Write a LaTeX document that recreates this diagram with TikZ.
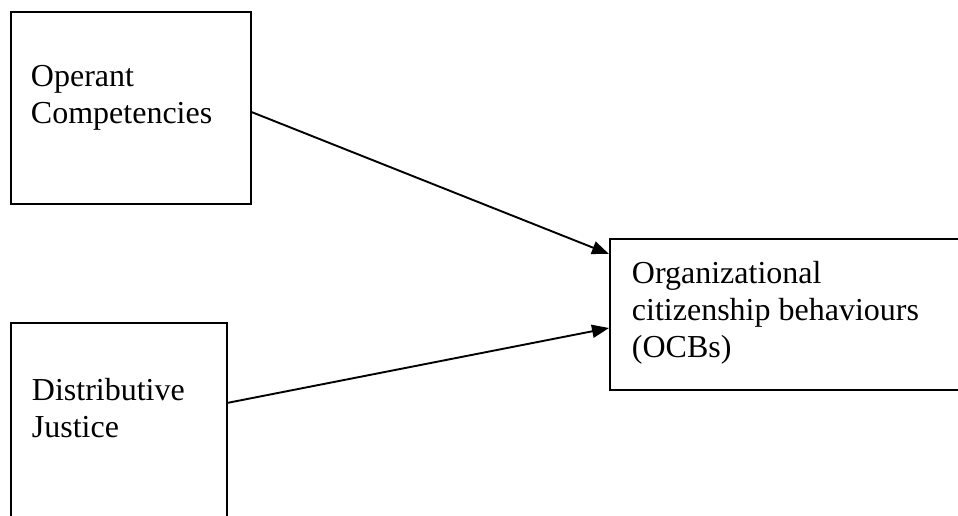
\documentclass[tikz,border=0pt]{standalone}
\usepackage{fontspec}
\setmainfont{Liberation Serif}
\usetikzlibrary{arrows.meta}

\begin{document}
\begin{tikzpicture}[x=1pt,y=-1pt,line width=1.9pt,
    box/.style={draw,anchor=north west,inner sep=0pt},
    lbl/.style={anchor=base west,align=left,inner sep=0pt,
      font=\fontsize{32pt}{37pt}\selectfont},
    conn/.style={-{Triangle[length=17pt,width=13pt]}}]
  \useasboundingbox (0,0) rectangle (958,516);
  % left boxes
  \node[box,minimum width=240pt,minimum height=192pt] (opc) at (10,11) {};
  \node[lbl] (opctext) at (30,124) {Operant\\Competencies};
  \node[box,minimum width=216pt,minimum height=210pt] (dj) at (10,322) {};
  \node[lbl] (djtext) at (31,437) {Distributive\\Justice};
  % outcome box, runs past the right edge
  \node[box,minimum width=370pt,minimum height=151pt] (ocb) at (609,238) {};
  \node[lbl] (ocbtext) at (631,357) {Organizational\\citizenship behaviours\\(OCBs)};
  \coordinate (in1) at (609,254);
  \coordinate (in2) at (609,328);
  \draw[conn] (opc.-2.4) -- (in1);
  \draw[conn] (dj.13.5) -- (in2);
\end{tikzpicture}
\end{document}
